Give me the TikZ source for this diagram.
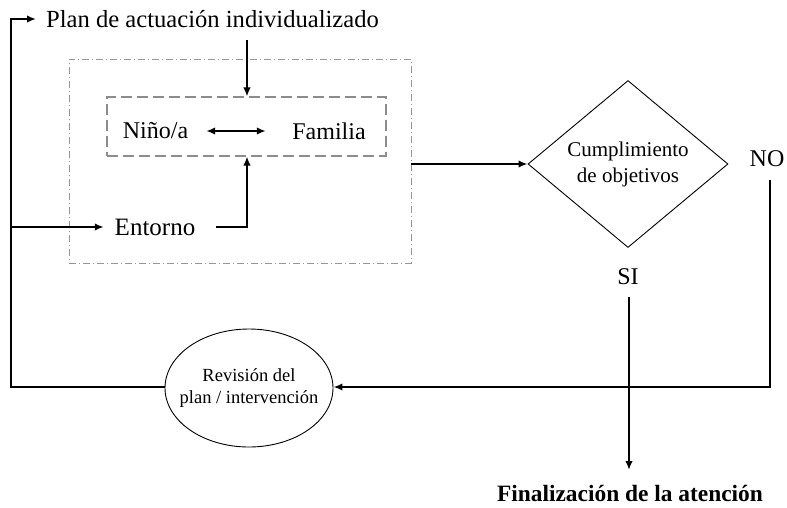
\documentclass[tikz,border=0pt]{standalone}
\usepackage{fontspec}
\setmainfont{Liberation Serif}
\usetikzlibrary{shapes.geometric,arrows.meta}
\definecolor{outergray}{RGB}{150,150,150}
\definecolor{innergray}{RGB}{140,140,140}
\begin{document}
\begin{tikzpicture}[x=1pt,y=-1pt,
  conn/.style={line width=2pt,line join=miter},
  arr/.style={conn,-{Latex[length=9pt,width=7.5pt]}},
  dbl/.style={conn,{Latex[length=9pt,width=7.5pt]}-{Latex[length=9pt,width=7.5pt]}},
  lbl/.style={inner sep=0pt,font=\fontsize{24}{28}\selectfont},
  outerbox/.style={draw=outergray,line width=0.9pt,dash pattern=on 7pt off 3pt on 1pt off 3pt,inner sep=0pt},
  innerbox/.style={draw=innergray,line width=1.1pt,dash pattern=on 11pt off 5pt,inner sep=0pt},
  thinshape/.style={draw,line width=0.9pt,inner sep=0pt,align=center}
]
\useasboundingbox (0,0) rectangle (787,507);

% boxes
\node[outerbox,minimum width=342pt,minimum height=204pt] (outer) at (240,161) {};
\node[innerbox,minimum width=279pt,minimum height=59pt] (inner) at (246.5,126.5) {};

% texts
\node[lbl,anchor=west,font=\fontsize{24.6}{28}\selectfont] (plan) at (46,19) {Plan de actuación individualizado};
\node[lbl,minimum width=101pt] (nino) at (155.5,131) {Niño/a};
\node[lbl,minimum width=126pt] (fam) at (329,131) {Familia};
\node[lbl,minimum width=102pt,font=\fontsize{25}{28}\selectfont] (ent) at (155,227) {Entorno};

\node[thinshape,diamond,minimum width=200pt,minimum height=167pt,
      font=\fontsize{21}{26}\selectfont] (dia) at (628,164) {Cumplimiento\\de objetivos};
\node[lbl] (no) at (767,159) {NO};
\node[lbl] (si) at (628,277) {SI};

\node[thinshape,ellipse,minimum width=168pt,minimum height=118pt] (rev) at (249,388) {};
\node[inner sep=0pt,align=center,font=\fontsize{18.5}{22}\selectfont] (revt) at (rev.center) {Revisión del\\plan / intervención};

\node[inner sep=0pt,font=\bfseries\fontsize{23.4}{28}\selectfont] (fin) at (630,493) {Finalización de la atención};

% coordinates
\coordinate (lb) at (11,387);
\coordinate (lt) at (11,19);
\coordinate (le) at (11,227);
\coordinate (pd) at (247,40);
\coordinate (ej) at (247,227);
\coordinate (nt) at (770,180);
\coordinate (nb) at (770,387);
\coordinate (st) at (629,297);
\coordinate (sb) at (629,470);

% connectors
\draw[arr] (rev.west |- lb) -- (lb) -- (lt) -- ([xshift=-10pt]plan.west);
\draw[arr] (le) -- (ent.west);
\draw[arr] (pd) -- (pd |- inner.north);
\draw[dbl] (nino) -- (fam);
\draw[arr] ([xshift=10pt]ent.east) -- (ej) -- (ej |- inner.south);
\draw[arr] (outer.east |- dia.west) -- (dia.west);
\draw[arr] (nt) -- (nb) -- (rev.east |- nb);
\draw[arr] (st) -- (sb);
\end{tikzpicture}
\end{document}
